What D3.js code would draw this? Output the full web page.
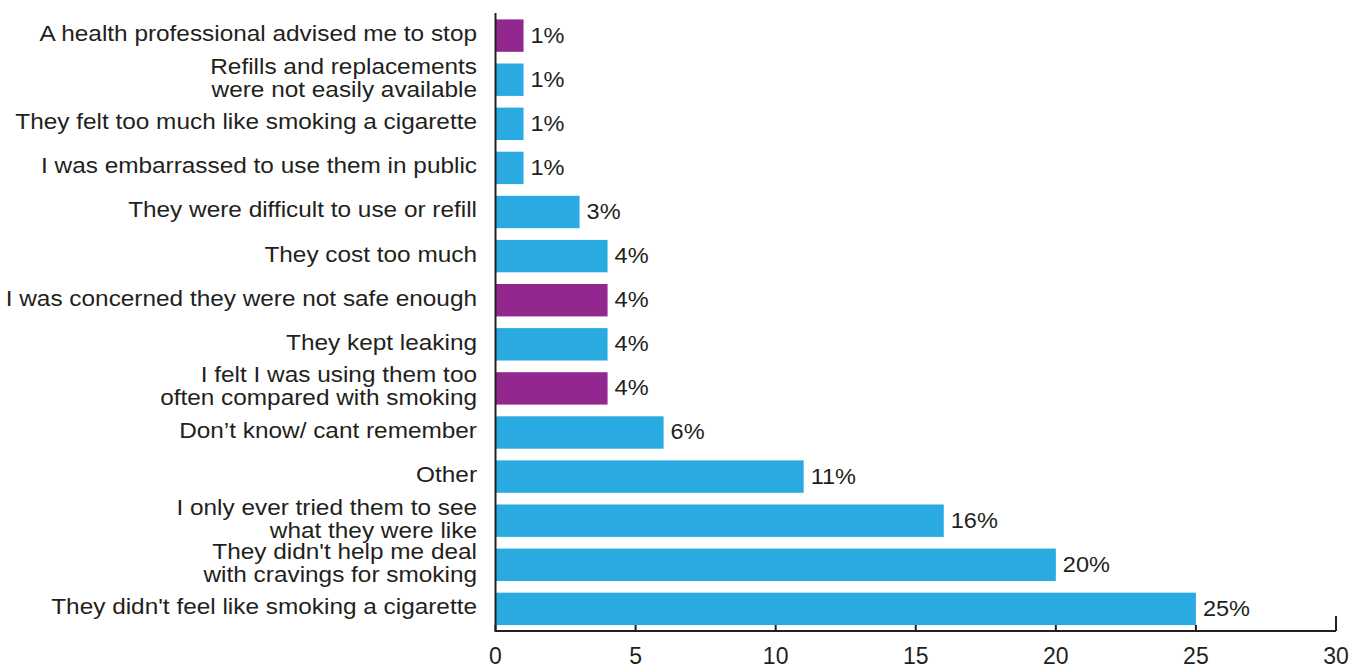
<!DOCTYPE html>
<html><head><meta charset="utf-8">
<script src="https://cdn.jsdelivr.net/npm/d3@7"></script>
<style>body{margin:0;background:#fff}svg{display:block}text{font-family:"Liberation Sans",Arial,sans-serif;fill:#231f20}</style>
</head><body><svg id="c" width="1349" height="666"></svg>
<script>
const categories = [
  ["A health professional advised me to stop"],
  ["Refills and replacements","were not easily available"],
  ["They felt too much like smoking a cigarette"],
  ["I was embarrassed to use them in public"],
  ["They were difficult to use or refill"],
  ["They cost too much"],
  ["I was concerned they were not safe enough"],
  ["They kept leaking"],
  ["I felt I was using them too","often compared with smoking"],
  ["Don\u2019t know/ cant remember"],
  ["Other"],
  ["I only ever tried them to see","what they were like"],
  ["They didn't help me deal","with cravings for smoking"],
  ["They didn't feel like smoking a cigarette"]
];
const values = [1,1,1,1,3,4,4,4,4,6,11,16,20,25];
const highlight = [true,false,false,false,false,false,true,false,true,false,false,false,false,false];
const xTicks = [0,5,10,15,20,25,30];

const svg = d3.select("#c");
const x = d3.scaleLinear().domain([0,30]).range([495.5,1336]);
const idx = d3.range(categories.length);
const y = d3.scaleBand().domain(idx).range([13.5,631]).paddingInner(0.265).paddingOuter(0.134);
const blue = "#29abe2", purple = "#92278f", ink = "#231f20";

svg.selectAll("rect.bar").data(idx).join("rect")
  .attr("x", x(0)).attr("y", i => y(i))
  .attr("width", i => x(values[i]) - x(0)).attr("height", y.bandwidth())
  .attr("fill", i => highlight[i] ? purple : blue);

svg.selectAll("text.val").data(idx).join("text")
  .attr("transform", i => `translate(${x(values[i]) + 7},${y(i) + y.bandwidth()/2 - 1}) scale(1.07,1)`)
  .attr("dy","0.36em").attr("font-size",22).text(i => values[i] + "%");

const lab = svg.selectAll("text.cat").data(idx).join("text")
  .attr("text-anchor","end").attr("font-size",22)
  .attr("transform", i => `translate(477,${y(i)+y.bandwidth()/2 - 2.5}) scale(1.108,1)`);
lab.each(function(i){
  const lines = categories[i];
  const t = d3.select(this);
  const lh = 23;
  lines.forEach((l,k) => {
    t.append("tspan").attr("x",0).attr("y",(k-(lines.length-1)/2)*lh).attr("dy","0.36em").text(l);
  });
});

// axes
const ax = svg.append("g").attr("transform","translate(0,631)");
ax.append("line").attr("x1",x(0)).attr("x2",x(30)).attr("y1",0).attr("y2",0).attr("stroke",ink).attr("stroke-width",2);
ax.selectAll("line.tk").data(xTicks).join("line")
  .attr("x1",d=>x(d)).attr("x2",d=>x(d)).attr("y1",0).attr("y2",d=> d===30 ? -15 : -6)
  .attr("stroke",ink).attr("stroke-width",2);
ax.selectAll("text.tl").data(xTicks).join("text")
  .attr("x",d=>x(d)).attr("y",25).attr("dy","0.36em").attr("text-anchor","middle").attr("font-size",23).text(d=>d);
svg.append("line").attr("x1",x(0)).attr("x2",x(0)).attr("y1",13).attr("y2",632).attr("stroke",ink).attr("stroke-width",2);
</script></body></html>
